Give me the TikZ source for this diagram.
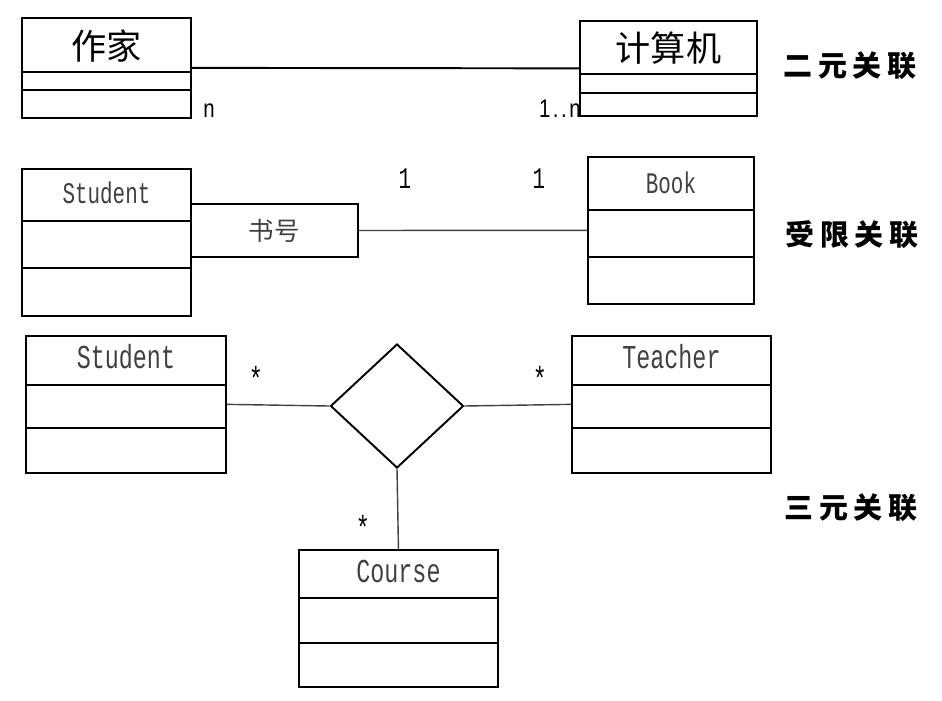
\documentclass[tikz,border=0pt]{standalone}
\usepackage{fontspec}
\newfontfamily\cjk{Noto Sans CJK SC}
\newfontfamily\tagfont{Noto Sans CJK SC}[LetterSpace=19]
\newfontfamily\clsfont{Liberation Mono}[FakeStretch=0.7]
\newfontfamily\multfont{Liberation Sans}[FakeStretch=0.8,LetterSpace=10]
\usetikzlibrary{shapes.multipart,shapes.geometric,positioning}
\newlength\pxu
\setlength\pxu{0.02cm}
\newcommand\cstrut[2]{\rule[-#2\pxu]{0pt}{#1\pxu}}
\begin{document}
\begin{tikzpicture}[x=0.02cm,y=-0.02cm,
    umlclass/.style={rectangle split,rectangle split parts=3,draw,line width=1.1pt,
        inner sep=0pt,text width=#1\pxu,align=center,anchor=north west,text=black!75},
    cjkbig/.style={font=\cjk\fontsize{20}{24}\selectfont},
    latsmall/.style={font=\clsfont\fontsize{17}{20}\selectfont},
    latbig/.style={font=\clsfont\fontsize{19}{22}\selectfont},
    mult/.style={inner sep=0pt,font=\multfont\fontsize{14.5}{16}\selectfont},
    tag/.style={inner sep=0pt,font=\tagfont\bfseries\fontsize{16.5}{18}\selectfont},
    link/.style={line width=0.8pt,draw=black!75}]
  \useasboundingbox (0,0) rectangle (942,700);
  % binary association
  \node[umlclass=169,cjkbig,text=black] (writer) at (21,17)
    {\cstrut{52}{11}作家\nodepart{two}\cstrut{16}{0}\nodepart{three}\cstrut{26}{0}};
  \node[umlclass=177,cjkbig,text=black] (computer) at (579,20)
    {\cstrut{51}{11}计算机\nodepart{two}\cstrut{17}{0}\nodepart{three}\cstrut{21}{0}};
  \node[mult,anchor=base west] (mwriter) at (203,117) {n};
  \node[mult,anchor=base east] (mcomputer) at (581,117) {1..n};
  \draw[line width=1.1pt] (writer.east) -- (computer.west);
  \node[tag] (binary) at (850,66) {二元关联};
  % qualified association
  \node[umlclass=169,latsmall] (student) at (21,168)
    {\cstrut{50}{16}Student\nodepart{two}\cstrut{45}{0}\nodepart{three}\cstrut{46}{0}};
  \node[draw,line width=1.1pt,anchor=north west,inner sep=0pt,minimum width=167\pxu,
    minimum height=53\pxu,font=\cjk\fontsize{14.5}{16}\selectfont,text=black!75] (key) at (190,203) {书号};
  \node[umlclass=166,latsmall] (book) at (587,156)
    {\cstrut{51}{15}Book\nodepart{two}\cstrut{45}{0}\nodepart{three}\cstrut{45}{0}};
  \draw[link] (key.east) -- (book.west);
  \node[latsmall,inner sep=0pt] (mkey) at (405,179) {1};
  \node[latsmall,inner sep=0pt] (mbook) at (539,179) {1};
  \node[tag] (qualified) at (852,235) {受限关联};
  % ternary association
  \node[umlclass=200,latbig] (pupil) at (25,335)
    {\cstrut{47}{15}Student\nodepart{two}\cstrut{41}{0}\nodepart{three}\cstrut{43}{0}};
  \node[umlclass=199,latbig] (teacher) at (571,335)
    {\cstrut{47}{15}Teacher\nodepart{two}\cstrut{41}{0}\nodepart{three}\cstrut{43}{0}};
  \node[umlclass=199,latbig] (course) at (298,549)
    {\cstrut{46}{14}Course\nodepart{two}\cstrut{43}{0}\nodepart{three}\cstrut{42}{0}};
  \node[diamond,draw,line width=1.1pt,inner sep=0pt,minimum width=133\pxu,
    minimum height=124\pxu] (assoc) at (397,406) {};
  \draw[link] (pupil.east) -- (assoc.west) (assoc.east) -- (teacher.west)
    (assoc.south) -- (course.north);
  \foreach \N/\X/\Y in {mpupil/256/378,mteacher/540/378,mcourse/363/527}
    \node[latbig,inner sep=0pt] (\N) at (\X,\Y) {*};
  \node[tag] (ternary) at (851,508) {三元关联};
\end{tikzpicture}
\end{document}
